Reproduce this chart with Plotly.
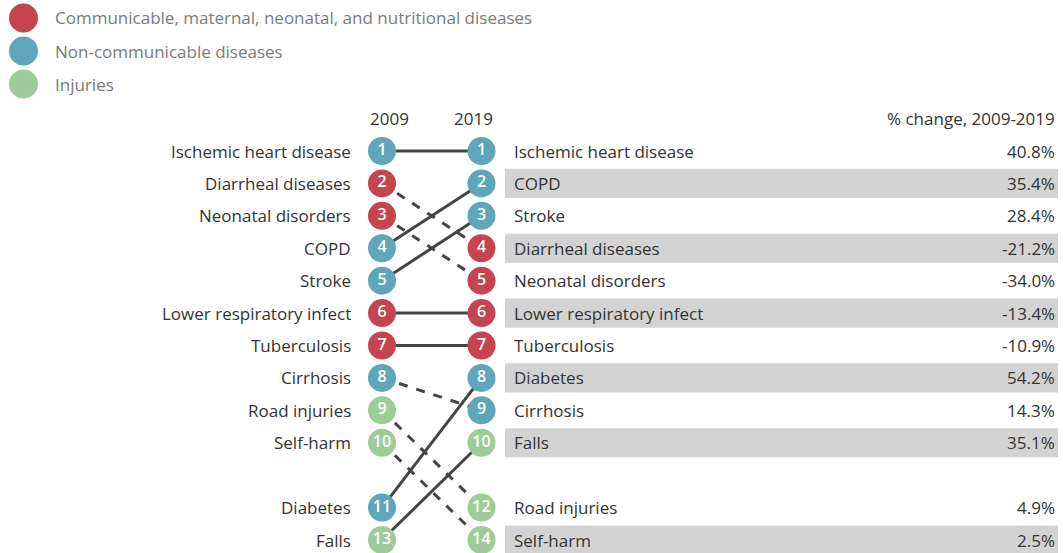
import plotly.graph_objects as go

# ---- data ----
causes_2009 = ["Ischemic heart disease", "Diarrheal diseases", "Neonatal disorders", "COPD", "Stroke",
               "Lower respiratory infect", "Tuberculosis", "Cirrhosis", "Road injuries", "Self-harm",
               "Diabetes", "Falls"]
ranks_2009 = [1, 2, 3, 4, 5, 6, 7, 8, 9, 10, 11, 13]
groups_2009 = ["NCD", "CMNN", "CMNN", "NCD", "NCD", "CMNN", "CMNN", "NCD", "INJ", "INJ", "NCD", "INJ"]

causes_2019 = ["Ischemic heart disease", "COPD", "Stroke", "Diarrheal diseases", "Neonatal disorders",
               "Lower respiratory infect", "Tuberculosis", "Diabetes", "Cirrhosis", "Falls",
               "Road injuries", "Self-harm"]
ranks_2019 = [1, 2, 3, 4, 5, 6, 7, 8, 9, 10, 12, 14]
groups_2019 = ["NCD", "NCD", "NCD", "CMNN", "CMNN", "CMNN", "CMNN", "NCD", "NCD", "INJ", "INJ", "INJ"]
pct_change = ["40.8%", "35.4%", "28.4%", "-21.2%", "-34.0%", "-13.4%", "-10.9%", "54.2%",
              "14.3%", "35.1%", "4.9%", "2.5%"]

legend_keys = ["CMNN", "NCD", "INJ"]
legend_labels = ["Communicable, maternal, neonatal, and nutritional diseases",
                 "Non-communicable diseases", "Injuries"]
years = [2009, 2019]

# ---- styles ----
COLORS = {"CMNN": "#C5444F", "NCD": "#5FA6BA", "INJ": "#9DCC99"}
FONT = "Open Sans"
FS = 17
TXT = "#333333"
W, H = 1063, 553


def slot(rank):
    # ranks beyond 10 are compressed into display slots after one empty row
    return rank if rank <= 10 else 12 + (rank - 11) // 2


fig = go.Figure()

# connecting lines
for cause, r09 in zip(causes_2009, ranks_2009):
    r19 = ranks_2019[causes_2019.index(cause)]
    fig.add_trace(go.Scatter(
        x=years, y=[slot(r09), slot(r19)], mode="lines",
        line=dict(color="#444444", width=3, dash="solid" if r19 <= r09 else "dash"),
        hoverinfo="skip", showlegend=False))

# circles with rank numbers
for yr, ranks, groups in [(2009, ranks_2009, groups_2009), (2019, ranks_2019, groups_2019)]:
    fig.add_trace(go.Scatter(
        x=[yr] * len(ranks), y=[slot(r) for r in ranks], mode="markers+text",
        marker=dict(size=28, color=[COLORS[g] for g in groups], line=dict(width=0)),
        text=[str(r) for r in ranks], textposition="middle center",
        textfont=dict(family=FONT, size=16, color="white", weight=600),
        hoverinfo="skip", showlegend=False))

shapes = []
annotations = []

# alternate grey bands on the right table
for i, r in enumerate(ranks_2019):
    if i % 2 == 1:
        shapes.append(dict(type="rect", xref="paper", yref="y", layer="below",
                           x0=505 / W, x1=1058 / W, y0=slot(r) - 0.45, y1=slot(r) + 0.45,
                           fillcolor="#D3D3D3", line=dict(width=0)))

# left labels
for cause, r in zip(causes_2009, ranks_2009):
    annotations.append(dict(x=2009, y=slot(r), xref="x", yref="y", text=cause, showarrow=False,
                            xanchor="right", xshift=-29, font=dict(family=FONT, size=FS, color=TXT)))
# right labels and % change
for cause, r, p in zip(causes_2019, ranks_2019, pct_change):
    annotations.append(dict(x=2019, y=slot(r), xref="x", yref="y", text=cause, showarrow=False,
                            xanchor="left", xshift=30, font=dict(family=FONT, size=FS, color=TXT)))
    annotations.append(dict(x=1057 / W, y=slot(r), xref="paper", yref="y", text=p, showarrow=False,
                            xanchor="right", font=dict(family=FONT, size=FS, color=TXT)))

# headers
for yr, dx in zip(years, [7, -8]):
    annotations.append(dict(x=yr, y=1 - 118 / H, xref="x", yref="paper", text=str(yr), showarrow=False,
                            xanchor="center", yanchor="middle", xshift=dx,
                            font=dict(family=FONT, size=FS, color=TXT)))
annotations.append(dict(x=1057 / W, y=1 - 118 / H, xref="paper", yref="paper", text="% change, 2009-2019",
                        showarrow=False, xanchor="right", yanchor="middle",
                        font=dict(family=FONT, size=FS, color=TXT)))

# custom legend
for i, (k, lab) in enumerate(zip(legend_keys, legend_labels)):
    cy = 18 + i * 33
    shapes.append(dict(type="circle", xref="paper", yref="paper",
                       x0=9 / W, x1=38 / W, y0=1 - (cy + 14.5) / H, y1=1 - (cy - 14.5) / H,
                       fillcolor=COLORS[k], line=dict(width=0)))
    annotations.append(dict(x=53 / W, y=1 - cy / H, xref="paper", yref="paper", text=lab, showarrow=False,
                            xanchor="left", yanchor="middle", font=dict(family=FONT, size=FS, color="#7A7A7A")))

px_per_year = (481.5 - 382) / 10
x0 = 2009 - 382 / px_per_year
x1 = 2019 + (W - 481.5) / px_per_year
px_per_slot = (540 - 151) / 12
y_top = 1 - 151 / px_per_slot
y_bot = 13 + (H - 540) / px_per_slot

fig.update_layout(
    width=W, height=H, margin=dict(l=0, r=0, t=0, b=0),
    paper_bgcolor="white", plot_bgcolor="white",
    xaxis=dict(range=[x0, x1], visible=False, fixedrange=True),
    yaxis=dict(range=[y_bot, y_top], visible=False, fixedrange=True),
    shapes=shapes, annotations=annotations, showlegend=False,
)

fig.write_html("out.html", config={"displayModeBar": False},
               post_script="document.body.style.margin='0';document.body.style.overflow='hidden';")
